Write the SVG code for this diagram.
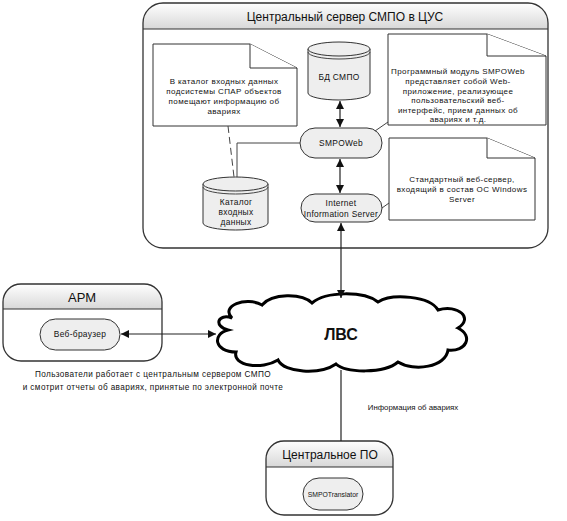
<svg xmlns="http://www.w3.org/2000/svg" width="567" height="521" viewBox="0 0 567 521">
<defs>
<linearGradient id="hdr" x1="0" y1="0" x2="0" y2="1">
<stop offset="0" stop-color="#ffffff"/>
<stop offset="1" stop-color="#d8d8d8"/>
</linearGradient>
<marker id="ah" viewBox="0 0 10 10" refX="10" refY="5" markerWidth="8" markerHeight="8" markerUnits="userSpaceOnUse" orient="auto-start-reverse">
<path d="M0,0 L10,5 L0,10 Z" fill="#111"/>
</marker>
</defs>
<style>
text{font-family:"Liberation Sans",Arial,sans-serif;fill:#111;text-anchor:middle}
.frame{fill:none;stroke:#333;stroke-width:1.3}
.hline{stroke:#333;stroke-width:1.2}
.title{font-size:12px}
.note{fill:#fff;stroke:#333;stroke-width:1}
.nt{font-size:8px;letter-spacing:0.4px}
.stad{fill:#eeeeee;stroke:#333;stroke-width:1}
.st{font-size:8.4px;letter-spacing:0.3px}
.cyl{fill:#eeeeee;stroke:#333;stroke-width:1}
.conn{fill:none;stroke:#222;stroke-width:1.2}
.thin{fill:none;stroke:#444;stroke-width:1}
.cap{font-size:8.2px;letter-spacing:0.4px}
</style>

<g id="central-server">
<path d="M143,29 V23 A20,20 0 0 1 163,3 H528 A20,20 0 0 1 548,23 V29 Z" fill="url(#hdr)"/>
<rect x="143" y="3" width="405" height="245" rx="20" class="frame"/>
<line x1="143" y1="29" x2="548" y2="29" class="hline"/>
<text x="345" y="21" class="title">Центральный сервер СМПО в ЦУС</text>
</g>

<g id="note-catalog">
<path d="M153,44 H250 L297,68 V126 H153 Z" class="note"/>
<path d="M250,44 V68 H297" class="note" fill="none"/>
<text class="nt"><tspan x="224" y="84">В каталог входных данных</tspan><tspan x="224" y="94">подсистемы СПАР объектов</tspan><tspan x="224" y="104">помещают информацию об</tspan><tspan x="224" y="114">авариях</tspan></text>
</g>

<g id="bd-smpo">
<path d="M308,49 V93 A31,7 0 0 0 370,93 V49" class="cyl"/>
<ellipse cx="339" cy="49" rx="31" ry="7" class="cyl"/>
<path d="M308,52 A31,7 0 0 0 370,52" class="thin"/>
<text x="339" y="80" class="st">БД СМПО</text>
</g>

<g id="note-smpoweb">
<path d="M388,34 H487 L546,56 V125 H388 Z" class="note"/>
<path d="M487,34 V56 H546" class="note" fill="none"/>
<text class="nt"><tspan x="458" y="74">Программный модуль SMPOWeb</tspan><tspan x="458" y="84">представляет собой Web-</tspan><tspan x="458" y="94">приложение, реализующее</tspan><tspan x="458" y="103">пользовательский веб-</tspan><tspan x="458" y="113">интерфейс, прием данных об</tspan><tspan x="458" y="122">авариях и т.д.</tspan></text>
</g>

<g id="smpoweb">
<rect x="300" y="128" width="82" height="30" rx="15" class="stad"/>
<text x="341" y="146" class="st">SMPOWeb</text>
</g>

<g id="catalog">
<path d="M203,184 V223 A32.5,7 0 0 0 268,223 V184" class="cyl"/>
<ellipse cx="235.5" cy="184" rx="32.5" ry="7" class="cyl"/>
<path d="M203,187 A32.5,7 0 0 0 268,187" class="thin"/>
<text class="st"><tspan x="236" y="205">Каталог</tspan><tspan x="236" y="215">входных</tspan><tspan x="236" y="225">данных</tspan></text>
</g>

<g id="iis">
<rect x="301" y="194" width="81" height="28" rx="14" class="stad"/>
<text class="st"><tspan x="341" y="206">Internet</tspan><tspan x="341" y="217">Information Server</tspan></text>
</g>

<g id="note-iis">
<path d="M389,138 H487 L535,158 V220 H389 Z" class="note"/>
<path d="M487,138 V158 H535" class="note" fill="none"/>
<text class="nt"><tspan x="462" y="182">Стандартный веб-сервер,</tspan><tspan x="462" y="192">входящий в состав ОС Windows</tspan><tspan x="462" y="202">Server</tspan></text>
</g>

<g id="arm">
<path d="M3,309 V302 A18,18 0 0 1 21,284 H144 A18,18 0 0 1 162,302 V309 Z" fill="url(#hdr)"/>
<rect x="3" y="284" width="159" height="77" rx="18" class="frame"/>
<line x1="3" y1="309" x2="162" y2="309" class="hline"/>
<text x="82" y="302" style="font-size:13px">АРМ</text>
</g>

<g id="browser">
<rect x="40" y="319" width="80" height="31" rx="15.5" class="stad"/>
<text x="80" y="337" class="st">Веб-браузер</text>
</g>

<g id="lan">
<path d="M232,318 C220,306 246,296 262,305 C272,293 302,293 312,303 C326,291 364,291 378,302 C392,293 430,296 438,310 C458,304 474,318 458,328 C474,336 466,352 448,350 C446,367 414,372 398,362 C384,374 346,373 336,364 C320,375 284,373 278,360 C262,370 232,366 236,352 C214,352 212,334 228,330 C213,326 218,313 232,318 Z" fill="#fff" stroke="#000" stroke-width="3"/>
<text x="341" y="340" style="font-size:16px;font-weight:bold">ЛВС</text>
</g>

<g id="central-po">
<path d="M266,467 V459 A18,18 0 0 1 284,441 H375 A18,18 0 0 1 393,459 V467 Z" fill="url(#hdr)"/>
<rect x="266" y="441" width="127" height="74" rx="18" class="frame"/>
<line x1="266" y1="467" x2="393" y2="467" class="hline"/>
<text x="330" y="459" class="title">Центральное ПО</text>
</g>

<g id="translator">
<rect x="303" y="478" width="60" height="32" rx="16" class="stad"/>
<text x="333" y="497" style="font-size:6.8px">SMPOTranslator</text>
</g>

<g id="labels">
<text class="cap"><tspan x="153" y="377">Пользователи работает с центральным сервером СМПО</tspan><tspan x="153" y="390">и смотрит отчеты об авариях, принятые по электронной почте</tspan></text>
<text x="413" y="410" style="font-size:7.8px">Информация об авариях</text>
</g>

<g id="connectors">
<line x1="340" y1="101" x2="340" y2="127" class="conn" marker-start="url(#ah)" marker-end="url(#ah)"/>
<line x1="340" y1="159" x2="340" y2="193" class="conn" marker-start="url(#ah)" marker-end="url(#ah)"/>
<line x1="341" y1="223" x2="341" y2="298" class="conn" marker-start="url(#ah)" marker-end="url(#ah)"/>
<line x1="121" y1="334" x2="216" y2="334" class="conn" marker-start="url(#ah)" marker-end="url(#ah)"/>
<line x1="341" y1="370" x2="341" y2="441" class="conn"/>
<polyline points="300,143 237,143 237,177" class="thin"/>
<line x1="228" y1="126" x2="234" y2="177" class="thin" stroke-dasharray="7,4"/>
<line x1="375" y1="131" x2="388" y2="122" class="thin"/>
<line x1="382" y1="208" x2="389" y2="203" class="thin"/>
</g>
</svg>
